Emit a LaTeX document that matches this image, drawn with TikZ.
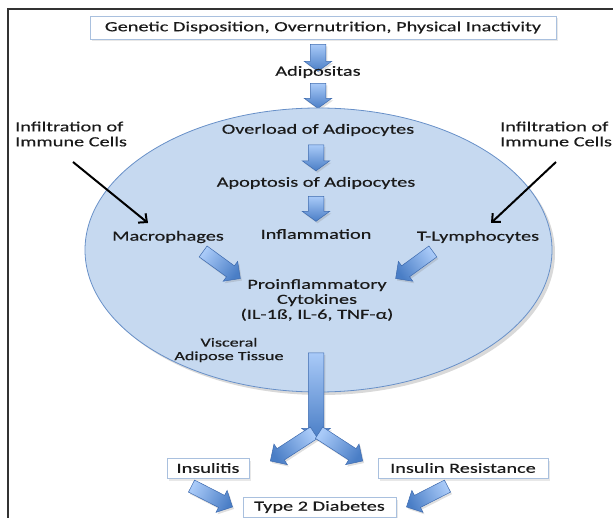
\documentclass[tikz,border=0pt]{standalone}
\usepackage{fontspec}
\setmainfont{Carlito}[FakeStretch=1.45,FakeBold=0.4]
\usetikzlibrary{shapes.arrows,shapes.geometric,shadows,arrows.meta}
\definecolor{ellfill}{HTML}{C6D9F0}
\definecolor{elldraw}{HTML}{6890C8}
\definecolor{arrlight}{HTML}{A9CAF8}
\definecolor{arrdark}{HTML}{4A7EC6}
\definecolor{arrdraw}{HTML}{3D6AAE}
\definecolor{boxdraw}{HTML}{A9C0DE}
\definecolor{txt}{HTML}{1A1A1A}
\begin{document}
\begin{tikzpicture}[x=1pt,y=-1pt,
  every node/.style={text=txt},
  lbl/.style={font=\fontsize{14}{15}\selectfont, align=center, inner sep=0pt},
  small/.style={font=\fontsize{12.5}{13.5}\selectfont, align=center, inner sep=0pt},
  tbox/.style={draw=boxdraw, line width=0.8pt, fill=white, inner sep=0pt,
     font=\fontsize{14}{15}\selectfont,
     drop shadow={opacity=0.18, shadow xshift=2pt, shadow yshift=-2.5pt}},
  blk/.style={single arrow, draw=arrdraw, line width=0.5pt, inner xsep=0pt, inner ysep=7.5pt,
     text height=0pt, text depth=0pt, text width=0pt,
     minimum width=0pt, single arrow head extend=6pt, single arrow head indent=0pt,
     drop shadow={opacity=0.25, shadow xshift=1.5pt, shadow yshift=-2pt}},
  vert/.style={single arrow tip angle=108},
  thin/.style={inner ysep=6.5pt, single arrow head extend=5.5pt},
  blkshade/.style={top color=arrlight, bottom color=arrdark, shading angle=#1},
  blkarrow/.style={line width=2pt, black, -{Straight Barb[length=6.5pt,width=12pt,line width=2pt]}}
]
\useasboundingbox (0,0) rectangle (613,518);
% frame
\draw[line width=1.2pt, black!80] (8,518) -- (8,9) -- (613,9);

% top box
\node[tbox, minimum width=466pt, minimum height=23pt] (gen) at (323,27.5) {Genetic Disposition, Overnutrition, Physical Inactivity};
\node[blk, vert, blkshade=0, minimum height=27pt, rotate=-90] (a1) at (318,55) {};
\node[lbl] (adip) at (318,72) {Adipositas};
\node[blk, vert, blkshade=0, minimum height=25pt, rotate=-90] (a2) at (318,93) {};

% ellipse
\node[ellipse, draw=elldraw, line width=0.8pt, fill=ellfill, minimum width=467pt, minimum height=284pt,
  drop shadow={opacity=0.3, shadow xshift=3pt, shadow yshift=-3pt}] (vat) at (318.5,250) {};

\node[lbl] (over) at (318,130) {Overload of Adipocytes};
\node[blk, vert, blkshade=0, minimum height=26pt, rotate=-90] (a3) at (316,155) {};
\node[lbl] (apop) at (316,183) {Apoptosis of Adipocytes};
\node[blk, vert, blkshade=0, minimum height=25pt, rotate=-90] (a4) at (316,206) {};
\node[lbl] (infl) at (316,234) {Inflammation};
\node[lbl] (macro) at (168,237) {Macrophages};
\node[lbl] (tlym) at (478,237) {T-Lymphocytes};

% infiltration labels
\node[lbl, align=left, anchor=west] (infL) at (15,134) {Infiltration of\\Immune Cells};
\node[lbl, align=left, anchor=west] (infR) at (500,134) {Infiltration of\\Immune Cells};
\coordinate (infLs) at (73,162);
\coordinate (infLe) at (148,223);
\coordinate (infRs) at (556,162);
\coordinate (infRe) at (491,223);
\draw[blkarrow] (infLs) -- (infLe);
\draw[blkarrow] (infRs) -- (infRe);

% diagonal arrows to cytokines
\node[blk, thin, blkshade=54, minimum height=46pt, rotate=-36] (dm) at (219,263) {};
\node[blk, thin, blkshade=-54, minimum height=46pt, rotate=216] (dt) at (417,263) {};

\node[lbl] (cyto) at (317,300) {Proinflammatory\\Cytokines\\(IL-1ß, IL-6, TNF-α)};
\node[small] (visc) at (229,350) {Visceral\\Adipose Tissue};

% big arrow down and split
\node[blk, vert, blkshade=0, single arrow head extend=6.5pt, minimum height=86pt, rotate=-90] (big) at (316,393) {};
\node[blk, thin, blkshade=-57, minimum height=52pt, rotate=213] (sl) at (295,445) {};
\node[blk, thin, blkshade=57, minimum height=52pt, rotate=-33] (sr) at (338,445) {};

% bottom boxes
\node[tbox, minimum width=82pt, minimum height=20pt] (insu) at (208,468) {Insulitis};
\node[tbox, minimum width=170pt, minimum height=20pt] (ires) at (463,468) {Insulin Resistance};
\node[tbox, minimum width=153pt, minimum height=20pt] (t2d) at (319.5,507) {Type 2 Diabetes};

\node[blk, thin, blkshade=63, minimum height=46pt, rotate=-27] (bl) at (209,495) {};
\node[blk, thin, blkshade=-63, minimum height=46pt, rotate=207] (br) at (430,495) {};
\end{tikzpicture}
\end{document}
